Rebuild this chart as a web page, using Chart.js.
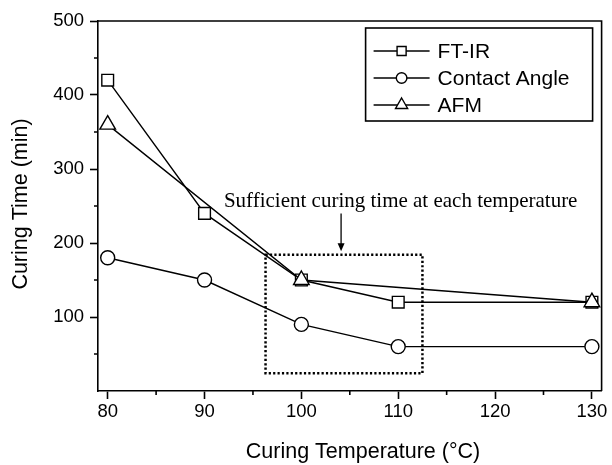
<!DOCTYPE html>
<html><head><meta charset="utf-8">
<script src="https://cdn.jsdelivr.net/npm/chart.js@4"></script>
<style>html,body{margin:0;padding:0;background:#fff}#wrap{width:612px;height:465px}</style>
</head><body><div id="wrap"><canvas id="c" width="612" height="465"></canvas></div>
<script>
// ---- data ----
const seriesNames = ['FT-IR', 'Contact Angle', 'AFM'];
const ftirTemps = [80, 90, 100, 110, 130];
const ftirTimes = [420, 240, 150, 120, 120];
const contactTemps = [80, 90, 100, 110, 130];
const contactTimes = [180, 150, 90, 60, 60];
const afmTemps = [80, 100, 130];
const afmTimes = [360, 150, 120];
const xTickValues = [80, 85, 90, 95, 100, 105, 110, 115, 120, 125, 130];
const xLabelValues = [80, 90, 100, 110, 120, 130];
const yTickValues = [50, 100, 150, 200, 250, 300, 350, 400, 450, 500];
const yLabelValues = [100, 200, 300, 400, 500];
const xTitle = 'Curing Temperature (\u00B0C)';
const yTitle = 'Curing Time (min)';
const noteText = 'Sufficient curing time at each temperature';

const SANS = '"Liberation Sans", Arial, sans-serif';
const SERIF = '"Liberation Serif", "Times New Roman", serif';
const toPts = (xs, ys) => xs.map((x, i) => ({x: x, y: ys[i]}));

const decor = {
  id: 'decor',
  afterDraw(chart) {
    const ctx = chart.ctx, a = chart.chartArea;
    const xs = chart.scales.x, ys = chart.scales.y;
    ctx.save();
    // frame top/right
    ctx.strokeStyle = '#000'; ctx.lineWidth = 1.6;
    ctx.beginPath();
    ctx.moveTo(a.left, a.top); ctx.lineTo(a.right, a.top); ctx.lineTo(a.right, a.bottom);
    ctx.stroke();
    // minor ticks
    ctx.lineWidth = 1.6;
    ctx.beginPath();
    xTickValues.filter(v => !xLabelValues.includes(v)).forEach(v => {
      const px = xs.getPixelForValue(v);
      ctx.moveTo(px, a.bottom); ctx.lineTo(px, a.bottom + 4);
    });
    yTickValues.filter(v => !yLabelValues.includes(v)).forEach(v => {
      const py = ys.getPixelForValue(v);
      ctx.moveTo(a.left - 4, py); ctx.lineTo(a.left, py);
    });
    ctx.stroke();
    // dotted box
    const bx1 = xs.getPixelForValue(96.3), bx2 = xs.getPixelForValue(112.5);
    const by1 = ys.getPixelForValue(184), by2 = ys.getPixelForValue(24);
    ctx.setLineDash([2.2, 2.2]); ctx.lineWidth = 2.5;
    ctx.strokeRect(bx1, by1, bx2 - bx1, by2 - by1);
    ctx.setLineDash([]);
    // arrow
    const ax = xs.getPixelForValue(104.1);
    const ay1 = ys.getPixelForValue(240), ay2 = ys.getPixelForValue(189);
    ctx.lineWidth = 1.3;
    ctx.beginPath(); ctx.moveTo(ax, ay1); ctx.lineTo(ax, ay2 - 6); ctx.stroke();
    ctx.fillStyle = '#000';
    ctx.beginPath(); ctx.moveTo(ax - 3.5, ay2 - 8); ctx.lineTo(ax + 3.5, ay2 - 8); ctx.lineTo(ax, ay2); ctx.closePath(); ctx.fill();
    // note text
    ctx.font = '21px ' + SERIF;
    ctx.textAlign = 'left'; ctx.textBaseline = 'alphabetic';
    ctx.fillText(noteText, xs.getPixelForValue(92.0), ys.getPixelForValue(248.5));
    // legend
    const lx = a.right - 236, ly = a.top + 7, lw = 227, lh = 93;
    ctx.lineWidth = 1.6; ctx.strokeStyle = '#000';
    ctx.strokeRect(lx, ly, lw, lh);
    const styles = [['rect', 6.4], ['circle', 5.3], ['triangle', 7]];
    ctx.font = '21px ' + SANS; ctx.textBaseline = 'middle';
    seriesNames.forEach((name, i) => {
      const ry = ly + 23 + i * 27;
      ctx.lineWidth = 1.3; ctx.strokeStyle = '#000';
      ctx.beginPath(); ctx.moveTo(lx + 8, ry); ctx.lineTo(lx + 64, ry); ctx.stroke();
      ctx.fillStyle = '#fff'; ctx.lineWidth = 1.4;
      Chart.helpers.drawPoint(ctx, {pointStyle: styles[i][0], rotation: 0, radius: styles[i][1], borderWidth: 1.4}, lx + 36, ry);
      ctx.fillStyle = '#000';
      ctx.fillText(name, lx + 72, ry + 1);
    });
    // axis titles
    ctx.font = '21.5px ' + SANS; ctx.fillStyle = '#000';
    ctx.textAlign = 'center'; ctx.textBaseline = 'middle';
    ctx.fillText(xTitle, 363, 452);
    ctx.translate(21, 204); ctx.rotate(-Math.PI / 2);
    ctx.fillText(yTitle, 0, 0);
    ctx.restore();
  }
};

new Chart(document.getElementById('c'), {
  type: 'line',
  data: {
    datasets: [
      {label: seriesNames[0], data: toPts(ftirTemps, ftirTimes), pointStyle: 'rect', pointRadius: 8.3, order: 3},
      {label: seriesNames[1], data: toPts(contactTemps, contactTimes), pointStyle: 'circle', pointRadius: 7, order: 2},
      {label: seriesNames[2], data: toPts(afmTemps, afmTimes), pointStyle: 'triangle', pointRadius: 9, order: 1}
    ]
  },
  options: {
    responsive: false, animation: false, devicePixelRatio: 1,
    layout: {padding: {top: 21, right: 9, left: 0, bottom: 0}},
    plugins: {legend: {display: false}, tooltip: {enabled: false}},
    elements: {
      line: {borderColor: '#000', borderWidth: 1.4, tension: 0, fill: false},
      point: {backgroundColor: '#fff', borderColor: '#000', borderWidth: 1.4, hoverRadius: 8}
    },
    scales: {
      x: {
        type: 'linear', min: 79, max: 131,
        afterBuildTicks: s => { s.ticks = xTickValues.map(v => ({value: v})); },
        afterFit: s => { s.height = 74; s.paddingLeft = 0; s.paddingRight = 0; },
        border: {color: '#000', width: 1.6},
        grid: {drawOnChartArea: false, tickLength: 8, tickWidth: 1.6,
               tickColor: c => xLabelValues.includes(c.tick && c.tick.value) ? '#000' : 'rgba(0,0,0,0)'},
        ticks: {color: '#000', font: {family: SANS, size: 18.5}, padding: 2, maxRotation: 0, autoSkip: false,
                callback: v => xLabelValues.includes(v) ? String(v) : ''}
      },
      y: {
        type: 'linear', min: 0, max: 500,
        afterBuildTicks: s => { s.ticks = yTickValues.map(v => ({value: v})); },
        afterFit: s => { s.width = 98; s.paddingTop = 0; s.paddingBottom = 0; },
        border: {color: '#000', width: 1.6},
        grid: {drawOnChartArea: false, tickLength: 8, tickWidth: 1.6,
               tickColor: c => yLabelValues.includes(c.tick && c.tick.value) ? '#000' : 'rgba(0,0,0,0)'},
        ticks: {color: '#000', font: {family: SANS, size: 18.5}, padding: 6, autoSkip: false,
                callback: v => yLabelValues.includes(v) ? String(v) : ''}
      }
    }
  },
  plugins: [decor]
});
</script>
</body></html>
